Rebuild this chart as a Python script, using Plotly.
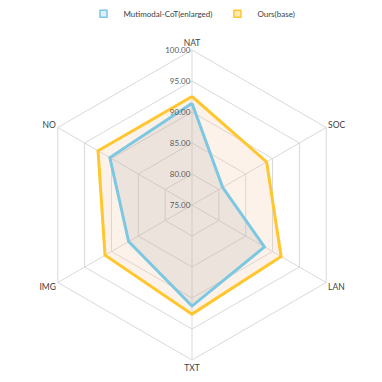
import plotly.graph_objects as go

categories = ["NAT", "SOC", "LAN", "TXT", "IMG", "NO"]
mmcot_values = [91.4, 80.7, 88.5, 91.3, 86.8, 90.3]
ours_values = [92.5, 88.9, 91.6, 92.6, 91.2, 92.5]
tick_values = [75, 80, 85, 90, 95, 100]
tick_labels = ["75.00", "80.00", "85.00", "90.00", "95.00", "100.00"]

BLUE = "#7CC8E2"
ORANGE = "#FFC62E"

fig = go.Figure()
fig.add_trace(go.Scatterpolar(
    r=ours_values + ours_values[:1], theta=categories + categories[:1],
    name="Ours(base)", mode="lines", fill="toself", showlegend=False,
    line=dict(color=ORANGE, width=3),
    fillcolor="rgba(248,203,173,0.25)",
))
fig.add_trace(go.Scatterpolar(
    r=mmcot_values + mmcot_values[:1], theta=categories + categories[:1],
    name="Mutimodal-CoT(enlarged)", mode="lines", fill="toself", showlegend=False,
    line=dict(color=BLUE, width=3),
    fillcolor="rgba(150,140,150,0.15)",
))
# legend entries (square markers)
for name, col, fill in [("Mutimodal-CoT(enlarged)", BLUE, "#DDF0F8"),
                        ("Ours(base)", ORANGE, "#FFE9B0")]:
    fig.add_trace(go.Scatterpolar(
        r=[None], theta=[categories[0]], name=name, mode="markers",
        marker=dict(symbol="square", size=7, color=fill, line=dict(color=col, width=1.5)),
    ))

fig.update_layout(
    width=382, height=382,
    margin=dict(l=29, r=43, t=42, b=30),
    paper_bgcolor="white",
    font=dict(family="Lato, Liberation Sans, sans-serif", size=9, color="#404040"),
    legend=dict(orientation="h", x=0.5, xanchor="center", y=0.985, yanchor="middle",
                yref="container", font=dict(size=8, color="#404040"),
                itemwidth=30, tracegroupgap=0),
    polar=dict(
        bgcolor="white",
        gridshape="linear",
        radialaxis=dict(range=[75, 100], tickvals=tick_values, ticktext=tick_labels,
                        angle=90, tickangle=90, side="counterclockwise",
                        showline=False, gridcolor="#D9D9D9", gridwidth=1,
                        tickfont=dict(size=8, color="#595959"), ticks=""),
        angularaxis=dict(rotation=90, direction="clockwise",
                         linecolor="#D9D9D9", gridcolor="#D9D9D9", linewidth=1,
                         tickfont=dict(size=8.5, color="#404040"), ticks=""),
    ),
)
fig.write_html("out.html")
